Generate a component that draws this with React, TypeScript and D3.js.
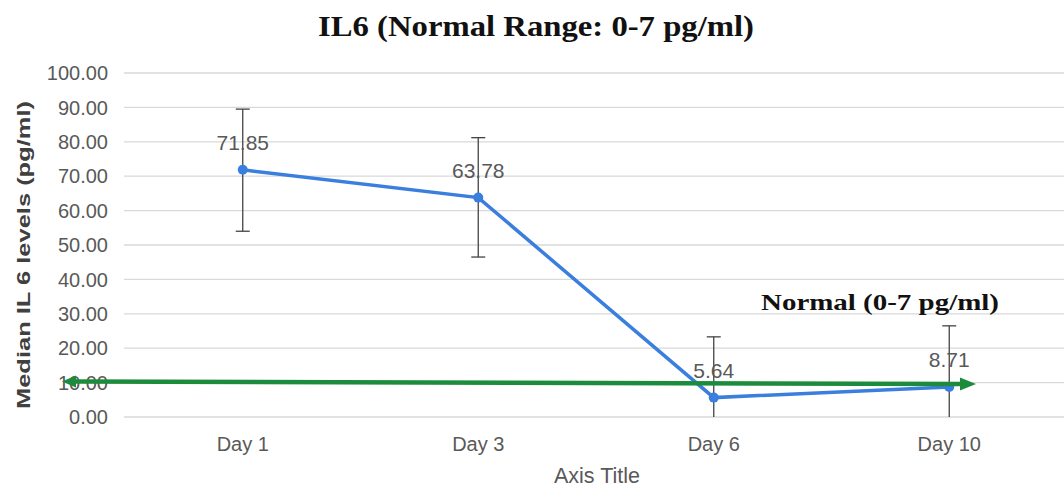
import React from "react";
import * as d3 from "d3";

const categories = ["Day 1", "Day 3", "Day 6", "Day 10"];
const medians = [71.85, 63.78, 5.64, 8.71];
const errUpper = [89.5, 81.2, 23.3, 26.5];
const errLower = [54.0, 46.5, 0, 0];
const yTicks = [0, 10, 20, 30, 40, 50, 60, 70, 80, 90, 100];
const normalValue = 10;

const W = 1064;
const H = 489;

export default function App() {
  const x = d3.scaleBand<string>().domain(categories).range([125, 1067]);
  const y = d3.scaleLinear().domain([0, 100]).range([417, 73]);
  const cx = (c: string) => (x(c) as number) + x.bandwidth() / 2;
  const line = d3
    .line<number>()
    .x((_, i) => cx(categories[i]))
    .y((d) => y(d));
  const gray = "#595959";
  const font = "Liberation Sans, Arial, sans-serif";
  const serif = "Liberation Serif, Times New Roman, serif";
  const green = "#1c8c3c";
  const blue = "#3a7ede";
  const gY = y(normalValue);

  return (
    <svg
      width={W}
      height={H}
      style={{ position: "absolute", left: 0, top: 0, background: "#fff" }}
    >
      <rect width={W} height={H} fill="#fff" />
      <text
        x={536}
        y={36}
        textAnchor="middle"
        fontFamily={serif}
        fontWeight="bold"
        fontSize={30}
        textLength={436}
        lengthAdjust="spacingAndGlyphs"
        fill="#111"
      >
        IL6 (Normal Range: 0-7 pg/ml)
      </text>
      {yTicks.map((t) => (
        <g key={t}>
          <line x1={124} x2={W} y1={y(t)} y2={y(t)} stroke="#d9d9d9" strokeWidth={1.3} />
          <text
            x={108}
            y={y(t)}
            dy="0.36em"
            textAnchor="end"
            fontFamily={font}
            fontSize={20}
            fill={gray}
          >
            {t.toFixed(2)}
          </text>
        </g>
      ))}
      <text
        transform={`translate(30,${255}) rotate(-90)`}
        textAnchor="middle"
        fontFamily={font}
        fontWeight="bold"
        fontSize={19}
        textLength={308}
        lengthAdjust="spacingAndGlyphs"
        fill="#404040"
      >
        Median IL 6 levels (pg/ml)
      </text>
      {categories.map((c) => (
        <text
          key={c}
          x={cx(c)}
          y={451}
          textAnchor="middle"
          fontFamily={font}
          fontSize={20}
          fill={gray}
        >
          {c}
        </text>
      ))}
      <text
        x={597}
        y={483}
        textAnchor="middle"
        fontFamily={font}
        fontSize={21.5}
        fill={gray}
      >
        Axis Title
      </text>
      {categories.map((c, i) => {
        const xx = cx(c);
        return (
          <g key={c} stroke="#444" strokeWidth={1.3}>
            <line x1={xx} x2={xx} y1={y(errUpper[i])} y2={y(errLower[i])} />
            <line x1={xx - 7} x2={xx + 7} y1={y(errUpper[i])} y2={y(errUpper[i])} />
            {errLower[i] > 0 && (
              <line x1={xx - 7} x2={xx + 7} y1={y(errLower[i])} y2={y(errLower[i])} />
            )}
          </g>
        );
      })}
      <path d={line(medians) || ""} fill="none" stroke={blue} strokeWidth={3.5} />
      {medians.map((v, i) => (
        <circle key={i} cx={cx(categories[i])} cy={y(v)} r={5} fill={blue} />
      ))}
      {medians.map((v, i) => (
        <text
          key={i}
          x={cx(categories[i])}
          y={y(v) - 20}
          textAnchor="middle"
          fontFamily={font}
          fontSize={21}
          fill={gray}
        >
          {v.toFixed(2)}
        </text>
      ))}
      <line x1={72} x2={962} y1={gY - 1} y2={gY + 1.5} stroke={green} strokeWidth={4.5} />
      <path d={`M62,${gY - 1} L76,${gY - 7} L76,${gY + 5} Z`} fill={green} />
      <path d={`M976,${gY + 1.5} L960,${gY - 5} L960,${gY + 8} Z`} fill={green} />
      <text
        x={761}
        y={310}
        fontFamily={serif}
        fontWeight="bold"
        fontSize={23}
        textLength={238}
        lengthAdjust="spacingAndGlyphs"
        fill="#111"
      >
        Normal (0-7 pg/ml)
      </text>
    </svg>
  );
}
